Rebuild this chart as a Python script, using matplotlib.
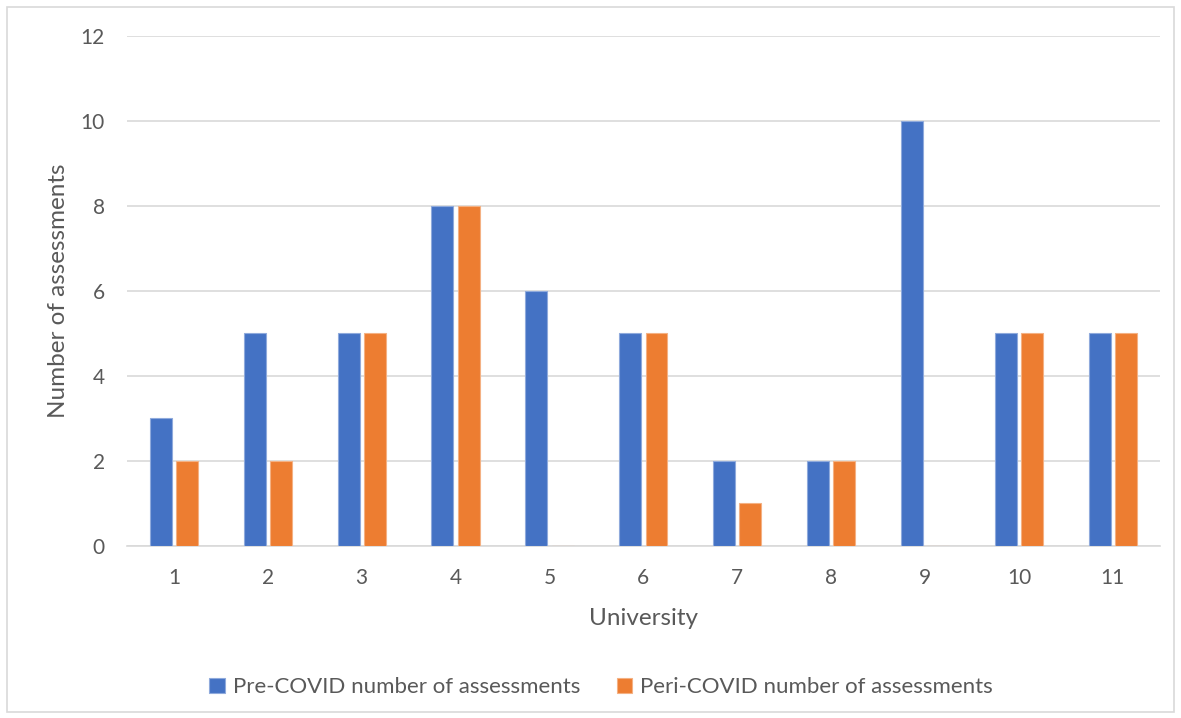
import numpy as np
import matplotlib.pyplot as plt
from matplotlib.patches import Rectangle

universities = ["1", "2", "3", "4", "5", "6", "7", "8", "9", "10", "11"]
pre_covid = [3, 5, 5, 8, 6, 5, 2, 2, 10, 5, 5]
peri_covid = [2, 2, 5, 8, 0, 5, 1, 2, 0, 5, 5]
series_names = ["Pre-COVID number of assessments", "Peri-COVID number of assessments"]

BLUE = "#4472C4"
ORANGE = "#ED7D31"
TEXT = "#595959"
GRID = "#D9D9D9"

plt.rcParams["font.family"] = ["Lato", "DejaVu Sans"]

fig = plt.figure(figsize=(11.81, 7.18), dpi=100)
ax = fig.add_axes([0.1075, 0.2396, 0.8745, 0.7103])

x = np.arange(len(universities))
w = 0.234
off = 0.14
ax.bar(x - off, pre_covid, w, color=BLUE, edgecolor="#8FAADC", linewidth=0.8,
       label=series_names[0], zorder=3)
ax.bar(x + off, peri_covid, w, color=ORANGE, edgecolor="#F4B183", linewidth=0.8,
       label=series_names[1], zorder=3)

ax.set_xlim(-0.5, len(universities) - 0.5)
ax.set_ylim(0, 12)
ax.set_yticks(range(0, 13, 2))
ax.set_xticks(x)
ax.set_xticklabels(universities)
ax.yaxis.grid(True, color=GRID, linewidth=1.2, zorder=0)
ax.set_axisbelow(True)
for side in ["top", "right", "left"]:
    ax.spines[side].set_visible(False)
ax.spines["bottom"].set_color(GRID)
ax.spines["bottom"].set_linewidth(1.2)
ax.tick_params(axis="both", length=0, labelsize=15, colors=TEXT)
ax.tick_params(axis="x", pad=16)
ax.tick_params(axis="y", pad=16)

ax.set_xlabel("University", fontsize=17.5, color=TEXT, labelpad=14)
ax.set_ylabel("Number of assessments", fontsize=17.5, color=TEXT, labelpad=8)

fig.legend(loc="center", bbox_to_anchor=(0.509, 0.043), ncol=2, frameon=False,
           fontsize=16, labelcolor=TEXT, handlelength=0.7, handleheight=0.7,
           handletextpad=0.35, columnspacing=1.65)

# thin frame around the whole chart
fig.patches.append(Rectangle((7 / 1181, 6 / 718), 1167 / 1181, 705 / 718,
                             transform=fig.transFigure, fill=False,
                             edgecolor=GRID, linewidth=1.2))

fig.savefig("out.png", dpi=100)
